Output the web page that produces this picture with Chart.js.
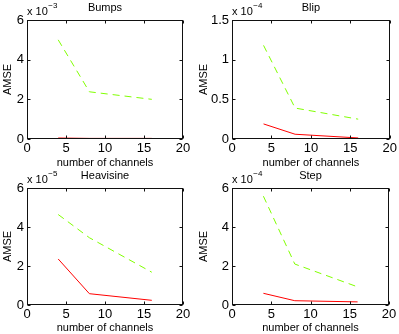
<!DOCTYPE html>
<html>
<head>
<meta charset="utf-8">
<script src="https://cdn.jsdelivr.net/npm/chart.js@4/dist/chart.umd.min.js"></script>
<style>
  html, body { margin: 0; padding: 0; background: #fff; }
  #page { position: relative; width: 399px; height: 334px; overflow: hidden; }
  .panel { position: absolute; }
</style>
</head>
<body>
<div id="page"></div>
<script>
// x positions of the three runs
const channels = [4, 8, 16];
const xMin = 0, xMax = 20, xStep = 5;

// AMSE per signal (real values)
const bumpsGreen = [5.0e-3, 2.38e-3, 2.0e-3];
const bumpsRed = [0.05e-3, 0.03e-3, 0.03e-3];
const blipGreen = [1.18e-4, 0.39e-4, 0.25e-4];
const blipRed = [0.19e-4, 0.06e-4, 0.013e-4];
const heaviGreen = [4.64e-5, 3.45e-5, 1.68e-5];
const heaviRed = [2.36e-5, 0.58e-5, 0.24e-5];
const stepGreen = [5.58e-4, 2.1e-4, 0.93e-4];
const stepRed = [0.6e-4, 0.22e-4, 0.16e-4];

const titles = ['Bumps', 'Blip', 'Heavisine', 'Step'];
const exponents = [-3, -4, -5, -4];
const yMaxes = [6, 1.5, 6, 6];
const ySteps = [2, 0.5, 2, 2];

const GREEN = 'rgb(128,255,0)';
const RED = 'rgb(255,0,0)';
const FONT = '"Liberation Sans", Arial, Helvetica, sans-serif';

Chart.defaults.font.family = FONT;
Chart.defaults.color = '#000';

// panel geometry (canvas placement and axis sizes)
const layouts = [
  { left: 0,   top: 0,   w: 200, h: 167, yW: 27, padR: 17, padT: 20, xH: 28, xLabY: 24, yLabX: 8 },
  { left: 197, top: 0,   w: 202, h: 167, yW: 35, padR: 9,  padT: 20, xH: 28, xLabY: 24, yLabX: 7 },
  { left: 0,   top: 167, w: 200, h: 167, yW: 27, padR: 17, padT: 21, xH: 29, xLabY: 23, yLabX: 8 },
  { left: 197, top: 167, w: 202, h: 167, yW: 35, padR: 10, padT: 21, xH: 29, xLabY: 23, yLabX: 7 }
];

const series = [
  [bumpsGreen, bumpsRed],
  [blipGreen, blipRed],
  [heaviGreen, heaviRed],
  [stepGreen, stepRed]
];

// box + inward ticks like matlab, plus title / labels / "x 10^n"
const matlabAxes = {
  id: 'matlabAxes',
  afterDatasetsDraw(chart, args, opts) {
    const { ctx, chartArea: a, scales } = chart;
    const L = Math.round(a.left) + 0.5, R = Math.round(a.right) - 0.5;
    const T = Math.round(a.top) + 0.5, B = Math.round(a.bottom) - 0.5;
    const len = 3;
    ctx.save();
    ctx.strokeStyle = '#111';
    ctx.lineWidth = 1;
    ctx.beginPath();
    scales.x.ticks.forEach(t => {
      const px = Math.round(scales.x.getPixelForValue(t.value)) + 0.5;
      ctx.moveTo(px, B); ctx.lineTo(px, B - len);
      ctx.moveTo(px, T); ctx.lineTo(px, T + len);
    });
    scales.y.ticks.forEach(t => {
      const py = Math.round(scales.y.getPixelForValue(t.value)) + 0.5;
      ctx.moveTo(L, py); ctx.lineTo(L + len, py);
      ctx.moveTo(R, py); ctx.lineTo(R - len, py);
    });
    ctx.stroke();
    ctx.strokeRect(L, T, R - L, B - T);

    const cx = (a.left + a.right) / 2;
    const cy = (a.top + a.bottom) / 2;
    ctx.fillStyle = '#000';

    // title
    ctx.font = '11px ' + FONT;
    ctx.textAlign = 'center';
    ctx.textBaseline = 'middle';
    ctx.fillText(opts.title, cx, a.top - 12);

    // x label
    ctx.fillText('number of channels', cx, a.bottom + opts.xLabY);

    // y label
    ctx.save();
    ctx.translate(opts.yLabX, cy);
    ctx.rotate(-Math.PI / 2);
    ctx.fillText('AMSE', 0, 0);
    ctx.restore();

    // exponent label
    ctx.textBaseline = 'alphabetic';
    ctx.textAlign = 'left';
    const base = 'x 10';
    ctx.fillText(base, a.left, a.top - 5);
    const w = ctx.measureText(base).width;
    ctx.font = '8px ' + FONT;
    ctx.fillText('\u2212' + Math.abs(opts.exp), a.left + w + 0.5, a.top - 12);
    ctx.restore();
  }
};

const page = document.getElementById('page');

for (let i = 0; i < 4; i++) {
  const lay = layouts[i];
  const scale = Math.pow(10, -exponents[i]);
  const [green, red] = series[i];

  const div = document.createElement('div');
  div.className = 'panel';
  div.style.left = lay.left + 'px';
  div.style.top = lay.top + 'px';
  const canvas = document.createElement('canvas');
  canvas.width = lay.w;
  canvas.height = lay.h;
  canvas.style.width = lay.w + 'px';
  canvas.style.height = lay.h + 'px';
  div.appendChild(canvas);
  page.appendChild(div);

  new Chart(canvas, {
    type: 'line',
    data: {
      datasets: [
        {
          label: 'green',
          data: channels.map((c, k) => ({ x: c, y: green[k] * scale })),
          borderColor: GREEN,
          borderWidth: 1,
          borderDash: [7, 5],
          pointRadius: 0,
          fill: false,
          tension: 0
        },
        {
          label: 'red',
          data: channels.map((c, k) => ({ x: c, y: red[k] * scale })),
          borderColor: RED,
          borderWidth: 1,
          pointRadius: 0,
          fill: false,
          tension: 0
        }
      ]
    },
    options: {
      responsive: false,
      animation: false,
      devicePixelRatio: 1,
      layout: { padding: { left: 0, right: lay.padR, top: lay.padT, bottom: 0 } },
      plugins: {
        legend: { display: false },
        tooltip: { enabled: false },
        title: { display: false },
        matlabAxes: {
          exp: exponents[i],
          title: titles[i],
          xLabY: lay.xLabY,
          yLabX: lay.yLabX
        }
      },
      scales: {
        x: {
          type: 'linear',
          min: xMin,
          max: xMax,
          grid: { display: false, drawTicks: false },
          border: { display: false },
          ticks: { stepSize: xStep, font: { size: 13 }, padding: 2, maxRotation: 0, autoSkip: false },
          afterFit: s => { s.height = lay.xH; }
        },
        y: {
          type: 'linear',
          min: 0,
          max: yMaxes[i],
          ticks: {
            stepSize: ySteps[i],
            font: { size: 13 },
            padding: 3,
            callback: v => String(Math.round(v * 10) / 10)
          },
          grid: { display: false, drawTicks: false },
          border: { display: false },
          afterFit: s => { s.width = lay.yW; }
        }
      }
    },
    plugins: [matlabAxes]
  });
}
</script>
</body>
</html>
